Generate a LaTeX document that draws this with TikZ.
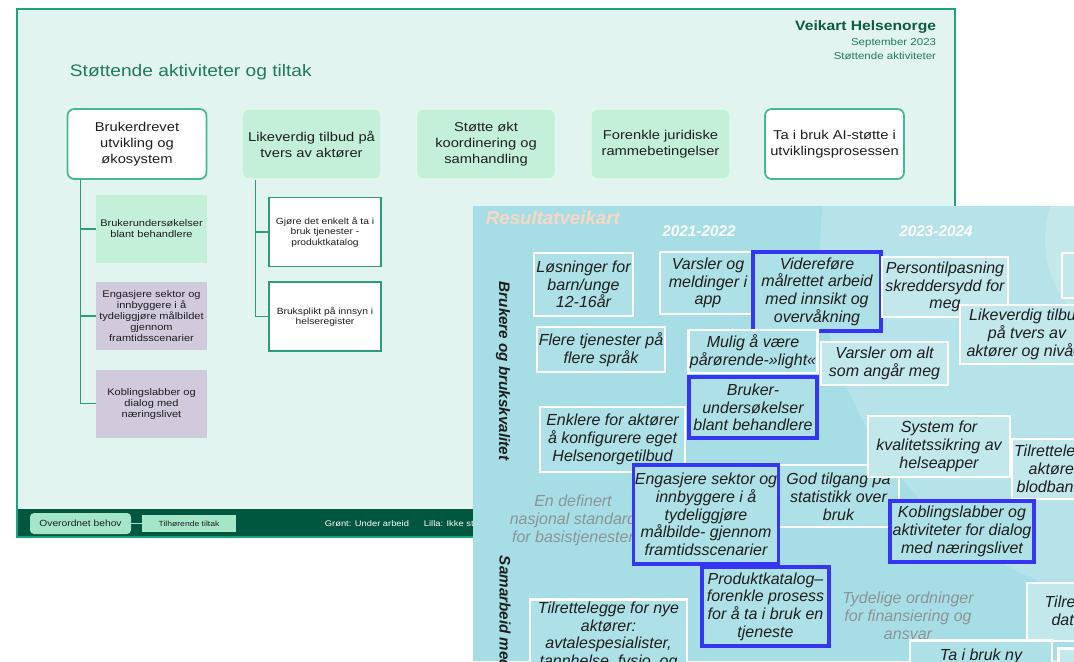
\documentclass[tikz,border=0pt]{standalone}
\usepackage{fontspec}
\setmainfont{Liberation Sans}
\newfontfamily\slidefont[FakeStretch=1.15]{Liberation Sans}
\usetikzlibrary{positioning}
\definecolor{ramme}{HTML}{1AA37F}
\definecolor{flate}{HTML}{E2F4EF}
\definecolor{tittel}{HTML}{1F7A5B}
\definecolor{mork}{HTML}{0E5A43}
\definecolor{bunn}{HTML}{00573F}
\definecolor{mint}{HTML}{C4F0DA}
\definecolor{lilla}{HTML}{D0CADC}
\definecolor{gren}{HTML}{2E9C7B}
\definecolor{kant}{HTML}{45B894}
\definecolor{bunnmint}{HTML}{A5E6C8}
\definecolor{kartbg}{HTML}{A7DEE5}
\definecolor{boks}{HTML}{AEE1E7}
\definecolor{boksl}{HTML}{C2E8EC}
\definecolor{blaa}{HTML}{3636F2}
\definecolor{blekk}{HTML}{1E1E1E}
\definecolor{graa}{HTML}{8A9597}
\definecolor{fersken}{HTML}{F8D8C4}

\begin{document}
\begin{tikzpicture}[x=0.75pt, y=-0.75pt,
  every node/.style={inner sep=2pt},
  hoved/.style={draw=kant, line width=1.3pt, fill=white, rounded corners=5pt,
    minimum width=104.25pt, minimum height=52.5pt, align=center, text=blekk,
    font=\slidefont\fontsize{9.6}{12}\selectfont},
  hovedm/.style={hoved, draw=white!55!mint, line width=0.8pt, fill=mint},
  tiltak/.style={minimum width=83.25pt, minimum height=51pt, align=center, text=blekk,
    font=\slidefont\fontsize{7.2}{8.3}\selectfont},
  tiltakv/.style={tiltak, draw=gren, line width=1.1pt, fill=white, minimum width=84pt,
    minimum height=51.75pt, font=\slidefont\fontsize{6.7}{7.9}\selectfont},
  tre/.style={draw=gren, line width=1.1pt},
  rk/.style={draw=white, line width=1.9pt, fill=boks, align=center, inner sep=1pt,
    text=blekk, font=\fontsize{12}{13.3}\selectfont\itshape},
  rkl/.style={rk, fill=boksl},
  rkb/.style={rk, draw=blaa, line width=2.3pt},
  grtekst/.style={align=center, text=graa, font=\fontsize{12}{13.5}\selectfont\itshape}]

  \useasboundingbox (0,0) rectangle (1074,661);

  % lysbildet
  \draw[ramme, line width=1.5pt, fill=flate] (17,8.5) rectangle (955,537);
  \fill[bunn] (17.75,509) rectangle (954.25,536.25);

  \node[anchor=base west, text=tittel, font=\slidefont\fontsize{12.5}{15}\selectfont] (tittel) at (67,76) {Støttende aktiviteter og tiltak};
  \node[anchor=base east, text=mork, font=\slidefont\bfseries\fontsize{10.2}{12}\selectfont] (veikart) at (939,30) {Veikart Helsenorge};
  \node[anchor=base east, text=tittel, font=\slidefont\fontsize{7.5}{9}\selectfont] (dato) at (939,45.5) {September 2023};
  \node[anchor=base east, text=tittel, font=\slidefont\fontsize{7.5}{9}\selectfont] (del) at (939,59.5) {Støttende aktiviteter};

  \node[hoved] (bruker) at (137,144) {Brukerdrevet\\utvikling og\\økosystem};
  \node[hovedm] (likeverdig) at (311.5,144) {Likeverdig tilbud på\\tvers av aktører};
  \node[hovedm] (stotte) at (486,144) {Støtte økt\\koordinering og\\samhandling};
  \node[hovedm] (forenkle) at (660.5,144) {Forenkle juridiske\\rammebetingelser};
  \node[hoved] (aistotte) at (834.5,144) {Ta i bruk AI-støtte i\\utviklingsprosessen};

  \node[tiltak, fill=mint] (bu) at (151.5,229) {Brukerundersøkelser\\blant behandlere};
  \node[tiltak, fill=lilla] (eng) at (151.5,316) {Engasjere sektor og\\innbyggere i å\\tydeliggjøre målbildet\\gjennom\\framtidsscenarier};
  \node[tiltak, fill=lilla] (kob) at (151.5,403.7) {Koblingslabber og\\dialog med\\næringslivet};

  \node[tiltakv] (gjore) at (325,232) {Gjøre det enkelt å ta i\\bruk tjenester -\\produktkatalog};
  \node[tiltakv] (plikt) at (325,316.7) {Bruksplikt på innsyn i\\helseregister};

  \coordinate (t1) at ([xshift=10.5pt]bruker.south west);
  \draw[tre] (t1) |- (kob.west);
  \draw[tre] (t1 |- bu.west) -- (bu.west);
  \draw[tre] (t1 |- eng.west) -- (eng.west);
  \coordinate (t2) at ([xshift=10.5pt]likeverdig.south west);
  \draw[tre] (t2) |- (plikt.west);
  \draw[tre] (t2 |- gjore.west) -- (gjore.west);

  % forklaring nederst
  \node[fill=bunnmint, rounded corners=3pt, minimum width=75.75pt, minimum height=15.75pt,
    text=blekk, font=\slidefont\fontsize{6.7}{8}\selectfont] (overordnet) at (80.5,523.5) {Overordnet behov};
  \node[fill=bunnmint, minimum width=70.5pt, minimum height=12.75pt,
    text=blekk, font=\slidefont\fontsize{5.6}{7}\selectfont] (tilhorende) at (189,523.5) {Tilhørende tiltak};
  \draw[bunnmint, line width=0.8pt] (overordnet.east) -- (tilhorende.west);
  \node[anchor=west, text=white, font=\slidefont\fontsize{6.1}{7}\selectfont] (gront) at (322,523.7) {Grønt: Under arbeid};
  \node[anchor=west, text=white, font=\slidefont\fontsize{6.1}{7}\selectfont] (lillaf) at (421,523.7) {Lilla: Ikke startet};

  % resultatveikartet oppå
  \begin{scope}
    \clip (473,206) rectangle (1074,661);
    \fill[kartbg] (473,206) rectangle (1074,661);
    \fill[white, opacity=0.16] (1180,250) circle [radius=360];
    \fill[white, opacity=0.18] (1150,240) circle [radius=105];

    \node[anchor=base west, text=fersken, font=\bfseries\itshape\fontsize{14}{16}\selectfont] (resultat) at (483,224) {Resultatveikart};
    \node[text=white, font=\bfseries\itshape\fontsize{11.5}{13}\selectfont] (aar1) at (699,231) {2021-2022};
    \node[text=white, font=\bfseries\itshape\fontsize{11.5}{13}\selectfont] (aar2) at (936,231) {2023-2024};
    \node[rotate=-90, text=blekk, font=\bfseries\itshape\fontsize{11.4}{13}\selectfont] (brukere) at (503,371) {Brukere og brukskvalitet};
    \node[rotate=-90, anchor=west, text=blekk, font=\bfseries\itshape\fontsize{11.4}{13}\selectfont] (samarbeid) at (505,553) {Samarbeid med};

    \node[grtekst] (standard) at (573,520) {En definert\\nasjonal standard\\for basistjenester};
    \node[grtekst] (ordninger) at (908,616) {Tydelige ordninger\\for finansiering og\\ansvar};

    \node[rk, minimum width=74.25pt, minimum height=47.25pt] (losninger) at (583.5,284.5) {Løsninger for\\barn/unge\\12-16år};
    \node[rk, minimum width=72pt, minimum height=46.5pt] (varsler) at (708,283) {Varsler og\\meldinger i\\app};
    \node[rkb, minimum width=96pt, minimum height=59.25pt] (videre) at (817,291.5) {Videreføre\\målrettet arbeid\\med innsikt og\\overvåkning};
    \node[rkl, minimum width=94.5pt, minimum height=45pt] (person) at (945,287) {Persontilpasning\\skreddersydd for\\meg};
    \node[rkl, minimum width=43.5pt, minimum height=33.75pt] (hjorne) at (1091,275.5) {};
    \node[rkl, minimum width=100.5pt, minimum height=44.25pt] (tilbud) at (1027,334.5) {Likeverdig tilbud\\på tvers av\\aktører og nivåer};
    \node[rk, minimum width=96pt, minimum height=33.75pt] (flere) at (601,349.5) {Flere tjenester på\\flere språk};
    \node[rk, minimum width=96pt, minimum height=32.25pt] (mulig) at (753,351.5) {Mulig å være\\pårørende-»light«};
    \node[rkl, minimum width=95.25pt, minimum height=32.25pt] (omalt) at (884.5,363.5) {Varsler om alt\\som angår meg};
    \node[rkb, minimum width=96pt, minimum height=45.75pt] (undersok) at (753,407.5) {Bruker-\\undersøkelser\\blant behandlere};
    \node[rk, minimum width=108.75pt, minimum height=48.75pt] (enklere) at (612.5,439.5) {Enklere for aktører\\å konfigurere eget\\Helsenorgetilbud};
    \node[rk, minimum width=90.75pt, minimum height=46.5pt] (tilgang) at (838.5,496) {God tilgang på\\statistikk over\\bruk};
    \node[rkl, minimum width=106.5pt, minimum height=45.75pt] (system) at (939,446.5) {System for\\kvalitetssikring av\\helseapper};
    \node[rkl, minimum width=69pt, minimum height=45pt] (blodbank) at (1058,469) {Tilrettelegge\\aktører i\\blodbanken};
    \node[rkb, minimum width=108pt, minimum height=74.25pt] (engasjere) at (706,514.5) {Engasjere sektor og\\innbyggere i å\\tydeliggjøre\\målbilde- gjennom\\framtidsscenarier};
    \node[rkb, minimum width=108pt, minimum height=45.75pt] (koblings) at (962,531.5) {Koblingslabber og\\aktiviteter for dialog\\med næringslivet};
    \node[rkb, minimum width=95.25pt, minimum height=59.25pt] (katalog) at (765.5,606.5) {Produktkatalog–\\forenkle prosess\\for å ta i bruk en\\tjeneste};
    \node[rk, anchor=north, minimum width=117.75pt, minimum height=55pt] (nye) at (608.5,598) {Tilrettelegge for nye\\aktører:\\avtalespesialister,\\tannhelse, fysio, og};
    \node[rkl, minimum width=92.25pt, minimum height=43.5pt] (data) at (1088.5,612) {Tilrettelegge\\datadeling};
    \node[rk, anchor=north, minimum width=106.5pt, minimum height=24pt] (nyteknologi) at (981,639) {Ta i bruk ny};
    \node[rkl, anchor=north west, minimum width=40pt, minimum height=30pt] (hjorne2) at (1057,647) {};
  \end{scope}
\end{tikzpicture}
\end{document}
